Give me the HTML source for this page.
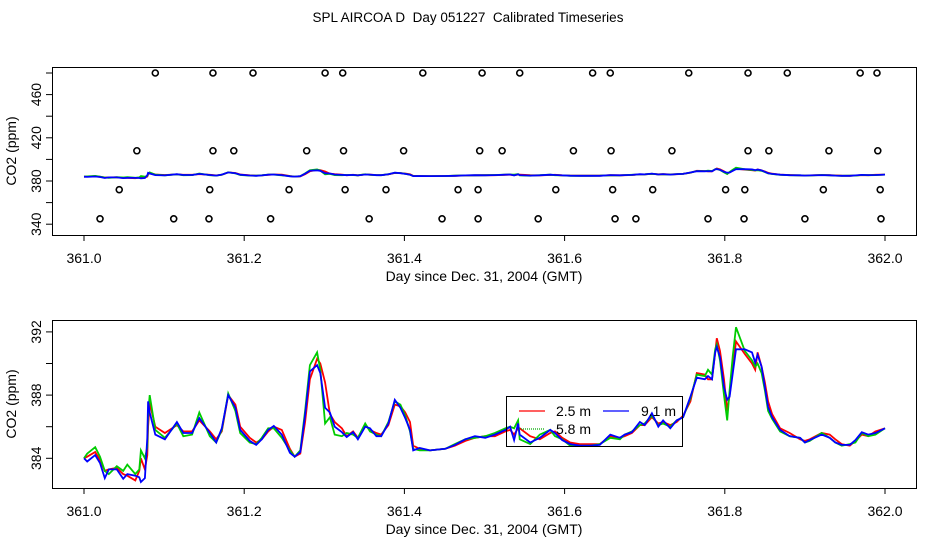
<!DOCTYPE html>
<html><head><meta charset="utf-8"><style>
body{margin:0;background:#fff}
svg{display:block;font-family:"Liberation Sans",sans-serif}
text{white-space:pre}
</style></head><body>
<svg id="c" width="936" height="540"></svg>
<script>
const days=[361.000,361.004,361.014,361.020,361.026,361.031,361.041,361.049,361.054,361.064,
361.069,361.071,361.076,361.079,361.080,361.082,361.089,361.101,361.116,361.124,
361.135,361.144,361.157,361.165,361.172,361.180,361.189,361.195,361.207,361.215,
361.222,361.230,361.237,361.247,361.257,361.263,361.270,361.276,361.282,361.291,
361.295,361.301,361.307,361.313,361.322,361.328,361.336,361.342,361.351,361.357,
361.365,361.371,361.380,361.388,361.395,361.401,361.407,361.411,361.419,361.432,
361.451,361.463,361.476,361.488,361.501,361.513,361.526,361.532,361.537,361.542,
361.544,361.557,361.569,361.582,361.588,361.597,361.607,361.619,361.632,361.644,
361.657,361.669,361.675,361.684,361.694,361.700,361.709,361.717,361.723,361.732,
361.740,361.748,361.757,361.765,361.775,361.779,361.784,361.788,361.790,361.794,
361.799,361.803,361.806,361.810,361.814,361.825,361.834,361.838,361.841,361.846,
361.850,361.854,361.859,361.869,361.881,361.894,361.900,361.906,361.921,361.931,
361.938,361.946,361.956,361.963,361.971,361.979,361.988,362.000];
const blue=[384.0,383.8,384.2,383.7,382.75,383.3,383.3,382.7,383.0,382.9,
382.8,382.5,382.75,385.3,387.6,386.9,385.5,385.2,386.3,385.6,
385.6,386.55,385.6,385.0,385.9,388.0,387.2,385.8,385.1,384.85,
385.2,385.8,386.05,385.5,384.35,384.1,384.4,386.75,389.5,389.9,
389.4,387.2,386.9,386.0,385.65,385.35,385.65,385.2,386.0,385.9,
385.4,385.4,386.2,387.7,387.2,386.55,385.8,384.5,384.65,384.5,
384.6,384.85,385.2,385.4,385.3,385.5,385.8,386.0,385.15,386.2,
385.5,385.0,385.3,385.8,385.6,385.15,384.9,384.8,384.8,384.85,
385.5,385.3,385.5,385.65,386.3,386.1,386.85,386.0,386.4,385.9,
386.4,386.6,387.9,389.1,389.0,389.2,389.0,390.7,391.05,390.4,
388.5,387.7,387.9,389.4,390.9,390.9,390.7,390.05,390.55,389.8,
388.5,387.25,386.6,385.8,385.4,385.3,385.0,385.15,385.5,385.3,
385.0,384.85,384.85,385.15,385.65,385.5,385.6,385.9];
const red=[384.0,384.1,384.4,383.9,383.2,383.3,383.4,383.0,382.9,382.6,
383.2,384.0,383.3,384.2,386.0,387.5,386.0,385.6,386.1,385.7,
385.7,386.4,385.7,385.2,385.7,388.0,387.4,386.0,385.3,385.0,
385.2,385.7,386.0,385.8,384.6,384.1,384.3,386.3,389.0,390.3,
390.0,388.8,386.8,386.3,385.9,385.4,385.7,385.3,386.1,385.8,
385.6,385.5,386.1,387.4,387.3,386.9,386.3,384.8,384.6,384.5,
384.6,384.8,385.1,385.3,385.4,385.4,385.7,385.8,385.5,385.9,
385.9,385.4,385.2,385.6,385.7,385.3,385.0,384.9,384.9,384.9,
385.4,385.3,385.4,385.6,386.1,386.1,386.6,386.2,386.3,386.1,
386.3,386.7,387.6,389.4,389.3,389.0,389.0,390.7,391.6,390.8,
389.0,387.0,388.0,389.7,391.4,390.6,390.0,389.6,390.7,389.8,
388.8,387.6,386.8,385.9,385.6,385.2,385.1,385.2,385.6,385.5,
385.2,384.9,384.8,385.1,385.5,385.4,385.7,385.9];
const green=[384.0,384.3,384.7,384.1,383.2,383.0,383.5,383.2,383.6,383.0,
383.3,384.5,384.0,384.7,386.8,388.0,385.8,385.3,386.2,385.4,
385.5,386.9,385.4,385.0,385.8,388.1,387.0,385.6,385.0,384.9,
385.3,385.9,385.9,385.3,384.5,384.1,384.5,387.0,389.9,390.7,
389.6,386.2,386.6,385.5,385.4,385.6,385.5,385.3,386.2,385.7,
385.5,385.4,386.3,387.6,387.4,386.7,385.7,384.6,384.5,384.5,
384.6,384.9,385.2,385.3,385.4,385.6,385.9,386.0,385.9,386.4,
385.2,384.9,385.5,385.8,385.4,385.2,384.8,384.8,384.8,384.9,
385.3,385.2,385.5,385.7,386.1,386.2,386.7,386.1,386.2,386.0,
386.4,386.6,387.8,389.3,389.2,389.6,389.3,390.9,391.2,390.2,
388.0,386.4,388.3,390.5,392.3,390.8,390.2,389.8,390.0,389.4,
388.3,387.0,386.5,385.7,385.4,385.3,385.0,385.1,385.6,385.3,
385.0,384.8,384.9,385.0,385.6,385.4,385.5,385.9];
const outDays=[361.089,361.161,361.211,361.301,361.323,361.423,361.497,361.544,361.635,361.657,361.755,361.829,361.878,361.969,361.990,
361.066,361.161,361.187,361.278,361.324,361.399,361.494,361.522,361.611,361.658,361.734,361.829,361.855,361.930,361.991,
361.044,361.157,361.256,361.326,361.377,361.467,361.492,361.589,361.660,361.710,361.801,361.825,361.923,361.994,
361.020,361.112,361.156,361.233,361.356,361.447,361.492,361.567,361.663,361.689,361.779,361.824,361.900,361.995];
const outVals=[480,480,480,480,480,480,480,480,480,480,480,480,480,480,480,
408,408,408,408,408,408,408,408,408,408,408,408,408,408,408,
372,372,372,372,372,372,372,372,372,372,372,372,372,372,
345,345,345,345,345,345,345,345,345,345,345,345,345,345];
const xTicks=[361.0,361.2,361.4,361.6,361.8,362.0];
const topTicks=[340,360,380,400,420,440,460,480];
const topLabels=[340,380,420,460];
const botTicks=[384,386,388,390,392];
const botLabels=[384,388,392];

const NS="http://www.w3.org/2000/svg",svg=document.getElementById('c');
function mk(t,a,p){const e=document.createElementNS(NS,t);for(const k in a)e.setAttribute(k,a[k]);(p||svg).appendChild(e);return e;}
const X=d=>84+(d-361)*801;
const Yt=v=>181-(v-380)*21.6/20;
const Yb=v=>458.3-(v-384)*15.8;

let t=mk('text',{x:468,y:22,'text-anchor':'middle','font-size':13.5});t.textContent='SPL AIRCOA D  Day 051227  Calibrated Timeseries';



function panel(name,top,bot,Y,yt,yl,series){
  const g=mk('g',{});
  
  
  const r=mk('rect',{x:52.5,y:top+.5,width:864,height:bot-top,fill:'none',stroke:'#000'},g);
  
  
  xTicks.forEach(d=>{
    mk('line',{x1:X(d),x2:X(d),y1:bot,y2:bot+6,stroke:'#000'},g);
    const l=mk('text',{x:X(d),y:bot+28,'text-anchor':'middle','font-size':14},g);l.textContent=d.toFixed(1);
    
    
  });
  yt.forEach(v=>mk('line',{x1:46,x2:52,y1:Y(v),y2:Y(v),stroke:'#000'},g));
  yl.forEach(v=>{const l=mk('text',{x:41,y:Y(v),'text-anchor':'middle','font-size':14,transform:`rotate(-90 41 ${Y(v)})`},g);l.textContent=v;
    
    });
  const xl=mk('text',{x:484,y:bot+46,'text-anchor':'middle','font-size':14},g);xl.textContent='Day since Dec. 31, 2004 (GMT)';
  
  
  const cy=(top+bot)/2;
  const ylb=mk('text',{x:16,y:cy,'text-anchor':'middle','font-size':14,transform:`rotate(-90 16 ${cy})`},g);ylb.textContent='CO2 (ppm)';
  
  
  series.forEach(([arr,col,nm])=>{
    const p=mk('polyline',{points:days.map((d,i)=>X(d).toFixed(1)+','+Y(arr[i]).toFixed(1)).join(' '),fill:'none',stroke:col,'stroke-width':1.8},g);
    
    
  });
  return g;
}
const ser=[[red,'#f00','series-2-5m'],[green,'#0c0','series-5-8m'],[blue,'#00f','series-9-1m']];
const gt=panel('top-panel',67,235,Yt,topTicks,topLabels,ser);
outDays.forEach((d,i)=>{const c=mk('circle',{cx:X(d),cy:Yt(outVals[i]),r:3,fill:'none',stroke:'#000','stroke-width':1.6},gt);
  
  });
const gb=panel('bottom-panel',320,488,Yb,botTicks,botLabels,ser);

const lg=mk('g',{});


mk('rect',{x:506.5,y:396.5,width:176,height:50,fill:'none',stroke:'#000'},lg);
[[519,545,411,'#f00','2.5 m',556,'none'],[603,629,411,'#00f','9.1 m',641,'none'],[519,545,429,'#0a0','5.8 m',556,'1,1']].forEach(e=>{
  const it=mk('g',{},lg);
  
  
  mk('line',{x1:e[0],x2:e[1],y1:e[2],y2:e[2],stroke:e[3],'stroke-width':1.2,'stroke-dasharray':e[6]},it);
  const tx=mk('text',{x:e[5],y:e[2]+5,'font-size':14},it);tx.textContent=e[4];
});
</script>
</body></html>
